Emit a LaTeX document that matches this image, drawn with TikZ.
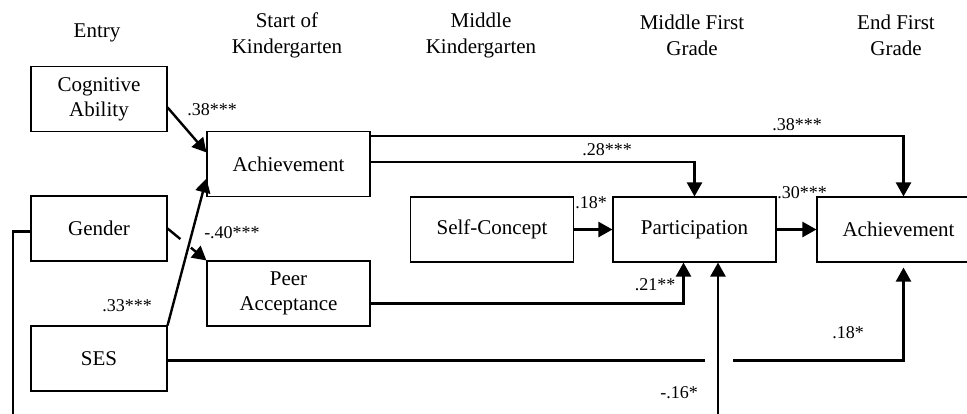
\documentclass[tikz,border=0pt]{standalone}
\usepackage{fontspec}
\setmainfont{Liberation Serif}
\usetikzlibrary{arrows.meta, calc}

\tikzset{
  box/.style={draw, line width=1.1pt, minimum width=163pt, minimum height=65pt, inner sep=0pt, align=center, font=\fontsize{21}{25}\selectfont},
  entrybox/.style={box, minimum width=136pt},
  head/.style={align=center, font=\fontsize{21}{26}\selectfont},
  coef/.style={inner sep=0pt, font=\fontsize{18}{20}\selectfont},
  wire/.style={line width=2.4pt},
  arrowline/.style={wire, -{Triangle[length=14pt, width=15pt]}}
}

\begin{document}
\begin{tikzpicture}[x=1pt, y=-1pt]
    \useasboundingbox (0,0) rectangle (967,413);
    \clip (0,0) rectangle (967,413);

    % time points
    \node[head] (hEntry) at (97,33) {Entry};
    \node[head] (hStartK) at (287,35) {Start of\\Kindergarten};
    \node[head] (hMidK) at (481,35) {Middle\\Kindergarten};
    \node[head] (hMidG1) at (692,35) {Middle First\\Grade};
    \node[head] (hEndG1) at (896,35) {End First\\Grade};

    % variables
    \node[entrybox] (cog) at (99,99) {Cognitive\\Ability};
    \node[entrybox] (gender) at (99,228.5) {Gender};
    \node[entrybox] (ses) at (99,358.5) {SES};
    \node[box] (achK) at (288.5,164) {Achievement};
    \node[box] (peer) at (288.5,293.5) {Peer\\Acceptance};
    \node[box] (self) at (492,229.5) {Self-Concept};
    \node[box] (part) at (694.5,229.5) {Participation};
    \node[box] (achE) at (898.5,229.5) {Achievement};

    % paths
    \draw[arrowline] (cog.-7) -- (achK.172);
    \draw[arrowline] (ses.north east) -- (achK.190);

    \coordinate (gGapA) at ($(gender.east)!.33!(peer.north west)$);
    \coordinate (gGapB) at ($(gender.east)!.6!(peer.north west)$);
    \draw[wire] (gender.east) -- (gGapA);
    \draw[arrowline] (gGapB) -- (peer.north west);

    \draw[arrowline] ([yshift=-5pt]achK.north east) -| ([xshift=5pt]achE.north);
    \draw[arrowline] ([yshift=2pt]achK.east) -| (part.north);
    \draw[arrowline] (self.east) -- (part.west);
    \draw[arrowline] (part.east) -- (achE.west);
    \draw[arrowline] ([yshift=-10pt]peer.east) -| ([xshift=-11pt]part.south);

    \coordinate (cross) at ([xshift=23.5pt]part.south);
    \draw[wire] ([yshift=-2pt]ses.east) -- ($([yshift=-2pt]ses.east -| cross)+(-13,0)$);
    \draw[arrowline, shorten >=5pt] ($([yshift=-2pt]ses.east -| cross)+(15,0)$) -| ([xshift=5pt]achE.south);

    \coordinate (loopL) at (13,440);
    \draw[arrowline] ([yshift=-3pt]gender.west) -| (loopL) -| (cross);

    % coefficients
    \node[coef] (cCog) at (212,110) {.38***};
    \node[coef] (cSes) at (127,306) {.33***};
    \node[coef] (cGender) at (232,233) {-.40***};
    \node[coef] (cAchE) at (797,125) {.38***};
    \node[coef] (cAchP) at (607,150) {.28***};
    \node[coef] (cSelf) at (591,203) {.18*};
    \node[coef] (cPart) at (802,193) {.30***};
    \node[coef] (cPeer) at (655,285) {.21**};
    \node[coef] (cSesE) at (848,333) {.18*};
    \node[coef] (cGenP) at (679,393) {-.16*};
\end{tikzpicture}
\end{document}
